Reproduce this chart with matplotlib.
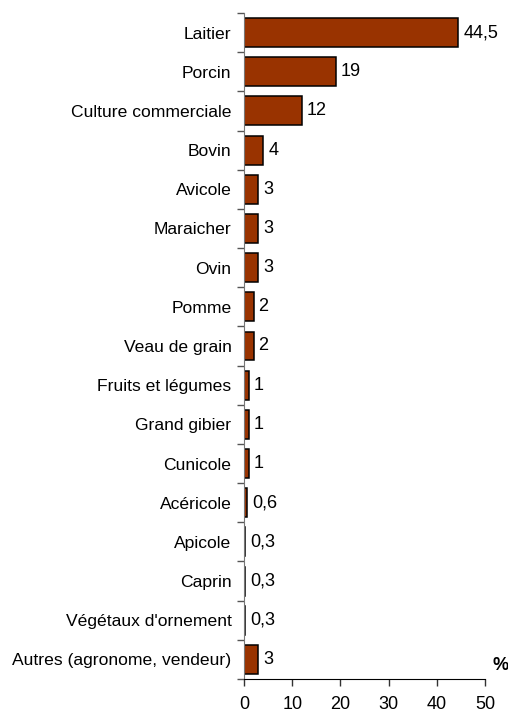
import matplotlib
matplotlib.use("Agg")
import matplotlib.pyplot as plt

categories = ["Laitier", "Porcin", "Culture commerciale", "Bovin", "Avicole",
              "Maraicher", "Ovin", "Pomme", "Veau de grain", "Fruits et légumes",
              "Grand gibier", "Cunicole", "Acéricole", "Apicole", "Caprin",
              "Végétaux d'ornement", "Autres (agronome, vendeur)"]
values = [44.5, 19, 12, 4, 3, 3, 3, 2, 2, 1, 1, 1, 0.6, 0.3, 0.3, 0.3, 3]
value_labels = ["44,5", "19", "12", "4", "3", "3", "3", "2", "2", "1", "1", "1",
                "0,6", "0,3", "0,3", "0,3", "3"]
xticks = [0, 10, 20, 30, 40, 50]

plt.rcParams['font.family'] = ['Liberation Sans', 'DejaVu Sans']

W, H = 508, 713
fig = plt.figure(figsize=(W / 100, H / 100), dpi=100)
left, right, top, bottom = 244, 485, 13, 679
ax = fig.add_axes([left / W, 1 - bottom / H, (right - left) / W, (bottom - top) / H])

fs_cat = 12.6
fs_num = 13

n = len(categories)
pos = list(range(n))
ax.barh(pos, values, height=0.74, color="#993300", edgecolor="black", linewidth=1.1)
for p, v, lab in zip(pos, values, value_labels):
    ax.annotate(lab, (v, p), xytext=(3.5, 0), textcoords="offset points",
                va="center", ha="left", fontsize=fs_num)

ax.set_ylim(n - 0.5, -0.5)
ax.set_xlim(0, 50)
ax.set_xticks(xticks)
ax.set_xticklabels([str(t) for t in xticks], fontsize=fs_num)
ax.set_yticks(pos)
ax.set_yticklabels(categories, fontsize=fs_cat)
ax.tick_params(axis="y", length=0, pad=9)
ax.set_yticks([i - 0.5 for i in range(n + 1)], minor=True)
ax.tick_params(axis="y", which="minor", length=5, width=1, color="#555555")
ax.tick_params(axis="x", length=5, width=1, color="#333333", pad=7)
for s in ["top", "right"]:
    ax.spines[s].set_visible(False)
ax.spines["left"].set_color("#777777")
ax.spines["bottom"].set_color("black")

fig.text(501 / W, 1 - 666 / H, "%", ha="center", va="center", fontsize=13, fontweight="bold")

fig.savefig("out.png", dpi=100, facecolor="white")
